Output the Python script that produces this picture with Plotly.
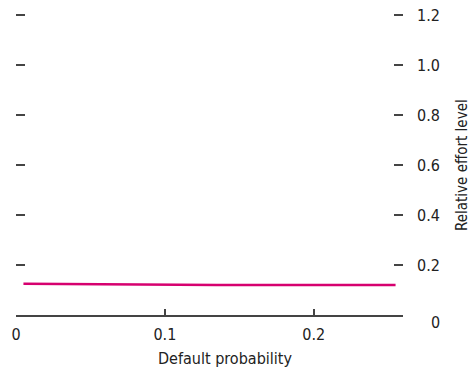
import plotly.graph_objects as go

# Data
default_prob = [0.005, 0.015, 0.025, 0.035, 0.045, 0.055, 0.065, 0.075, 0.085, 0.095,
                0.105, 0.115, 0.125, 0.135, 0.145, 0.155, 0.165, 0.175, 0.185, 0.195,
                0.205, 0.215, 0.225, 0.235, 0.245, 0.255]
effort_level = [0.125, 0.1245, 0.124, 0.1233, 0.1226, 0.122, 0.1215, 0.1212, 0.121, 0.1209,
                0.1208, 0.1207, 0.1206, 0.1205, 0.1205, 0.1204, 0.1204, 0.1203, 0.1203, 0.1202,
                0.1202, 0.1202, 0.1201, 0.1201, 0.12, 0.12]
x_ticks = [0, 0.1, 0.2]
x_tick_labels = ["0", "0.1", "0.2"]
y_ticks = [0, 0.2, 0.4, 0.6, 0.8, 1.0, 1.2]
y_tick_labels = ["0", "0.2", "0.4", "0.6", "0.8", "1.0", "1.2"]
x_title = "Default probability"
y_title = "Relative effort level"

FONT = "DejaVu Sans Condensed, Liberation Sans Narrow, Arial Narrow, Liberation Sans, sans-serif"
TXT = "#222222"

fig = go.Figure()
fig.add_trace(go.Scatter(x=default_prob, y=effort_level, mode="lines",
                         line=dict(color="#d6006f", width=2.5), showlegend=False))

fig.update_layout(
    width=472, height=368,
    margin=dict(l=16, r=69, t=12, b=53),
    paper_bgcolor="white", plot_bgcolor="white",
    font=dict(family=FONT, size=16, color=TXT),
    xaxis=dict(range=[0, 0.26], tickvals=x_ticks, ticktext=x_tick_labels,
               showgrid=False, zeroline=False, showline=True, linecolor="#444444",
               linewidth=1.5, ticks="inside", ticklen=6, tickwidth=1.5, tickcolor="#444444",
               ticklabelstandoff=4,
               tickfont=dict(size=16, color=TXT, family=FONT)),
    yaxis=dict(range=[0, 1.212], tickvals=y_ticks, side="right",
               showgrid=False, zeroline=False, showline=False,
               ticks="inside", ticklen=9, tickwidth=1.5, tickcolor="#444444",
               mirror="ticks", showticklabels=False),
)

for v, t in zip(y_ticks, y_tick_labels):
    fig.add_annotation(xref="paper", yref="y", x=1, y=v, text=t, showarrow=False,
                       xanchor="right", yanchor="middle", xshift=39,
                       yshift=-7 if v == 0 else 0,
                       font=dict(size=16, color=TXT, family=FONT))

fig.add_annotation(xref="paper", yref="y", x=1, y=0.6, text=y_title, showarrow=False,
                   textangle=-90, xanchor="center", yanchor="middle", xshift=59,
                   font=dict(size=15, color=TXT, family=FONT))
fig.add_annotation(xref="paper", yref="paper", x=0.54, y=0, text=x_title, showarrow=False,
                   xanchor="center", yanchor="middle", yshift=-43,
                   font=dict(size=16, color=TXT, family=FONT))

fig.write_html("out.html", config={"displayModeBar": False},
               post_script="document.body.style.margin='0';document.body.style.padding='0';")
